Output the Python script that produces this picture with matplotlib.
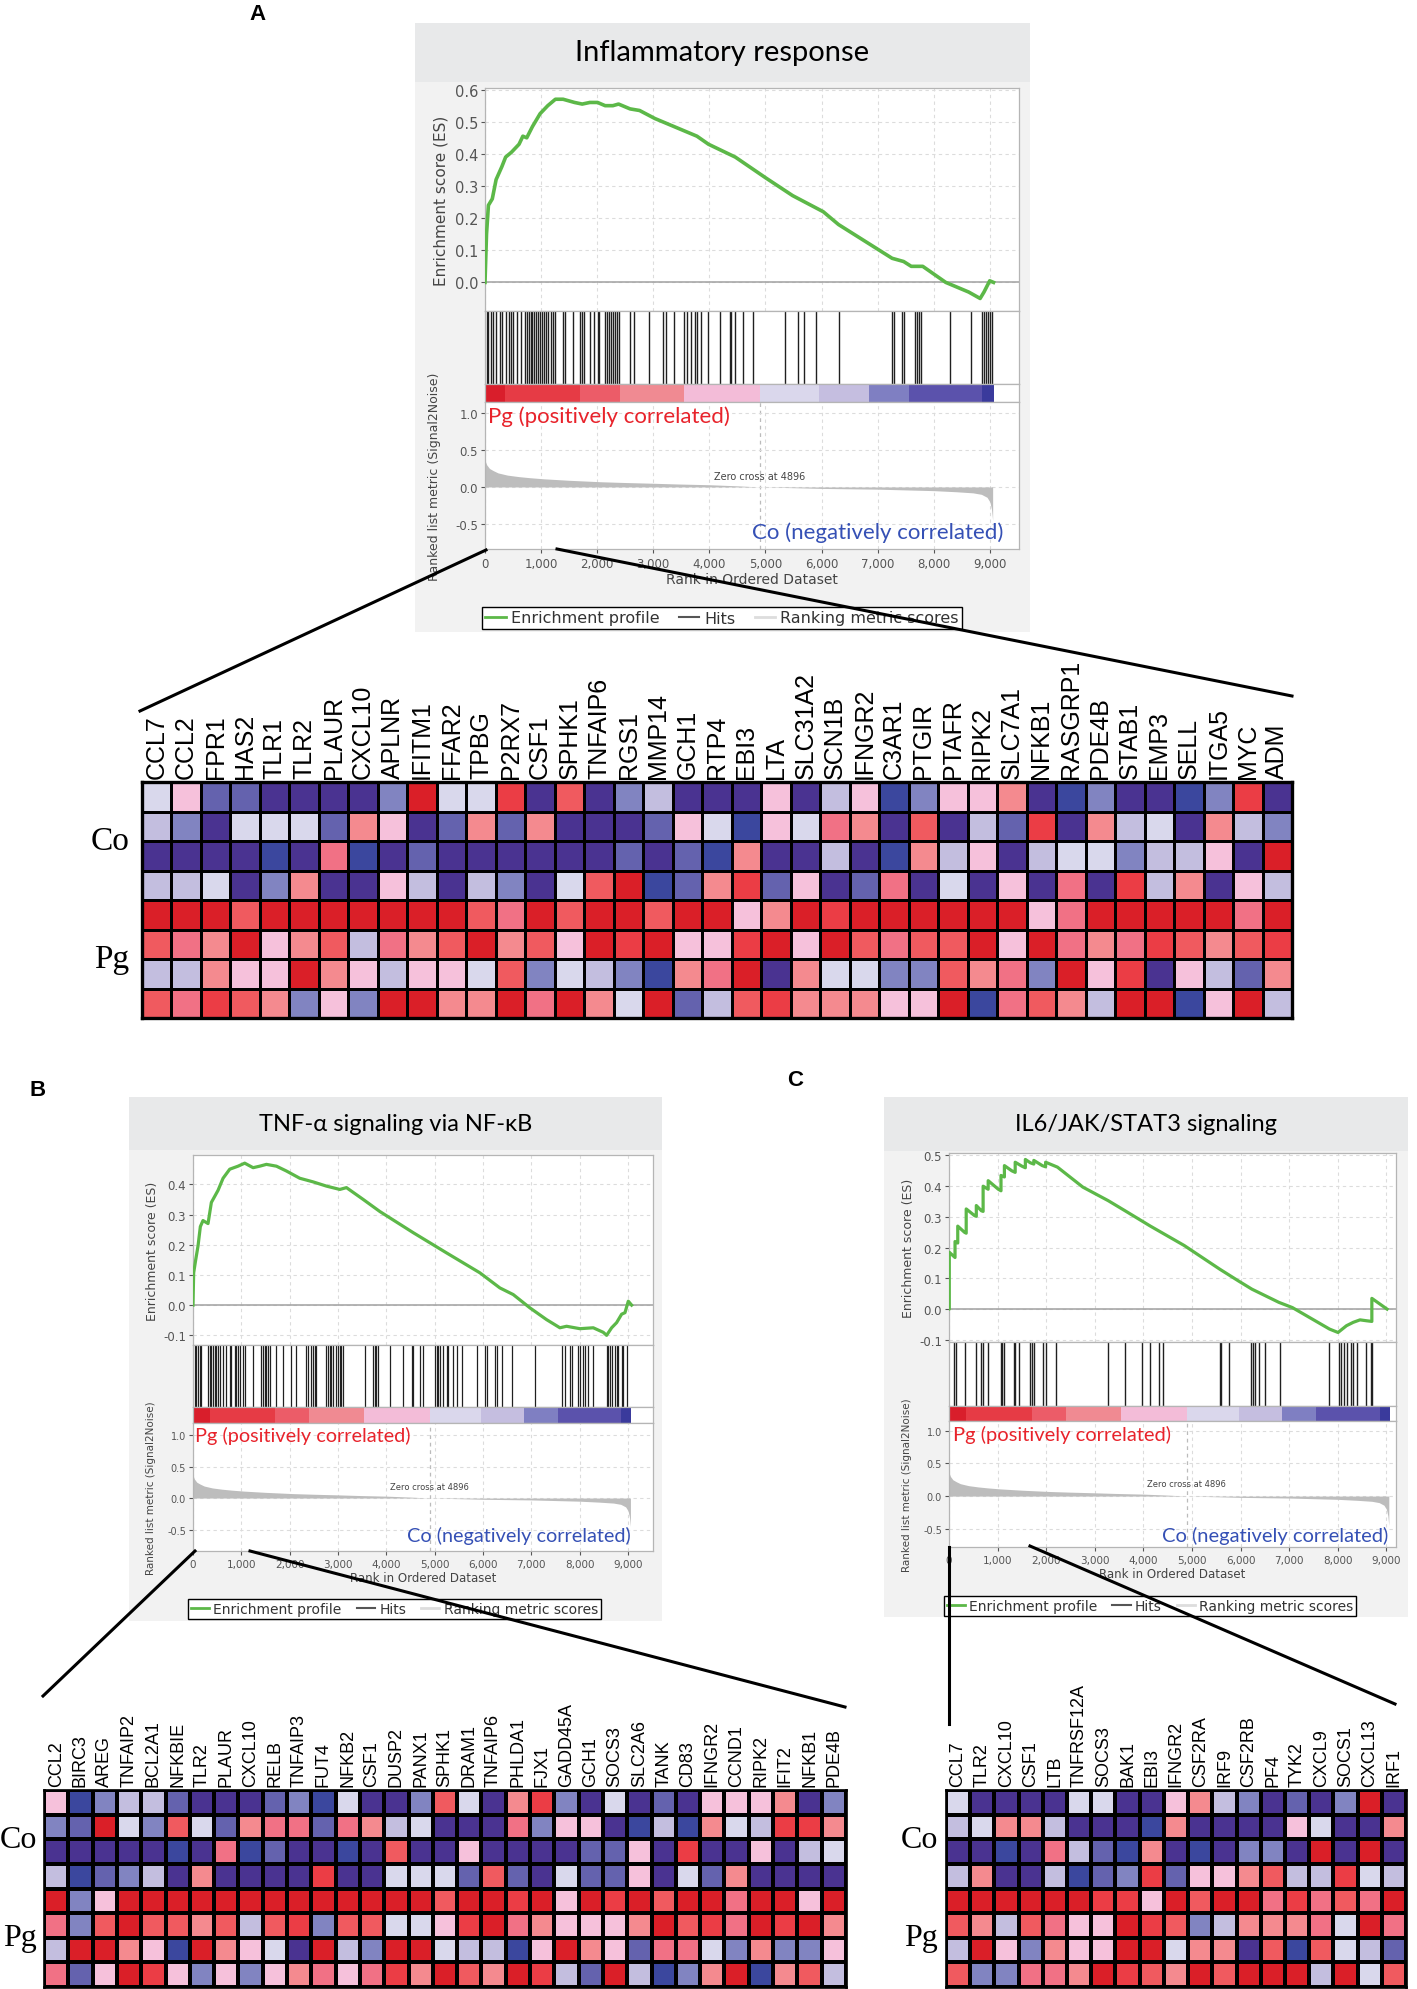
import matplotlib
matplotlib.use('Agg')
import matplotlib.pyplot as plt
import numpy as np
from matplotlib.colors import ListedColormap, BoundaryNorm
from matplotlib.patches import Rectangle
from matplotlib.lines import Line2D

# ---------------- data ----------------
# shared ranked list (Signal2Noise)
metric_rank = [0, 30, 80, 150, 232, 400, 600, 800, 1050, 1500, 2074, 2500, 3000, 3438, 4000, 4500,
               4896, 5500, 6000, 6500, 7000, 7500, 8000, 8400, 8700, 8850, 8950, 9000, 9030, 9050]
metric_val = [0.36, 0.30, 0.25, 0.22, 0.19, 0.16, 0.14, 0.125, 0.11, 0.09, 0.07, 0.06, 0.05, 0.04,
              0.03, 0.015, 0.0, -0.01, -0.02, -0.025, -0.03, -0.04, -0.05, -0.065, -0.08, -0.1,
              -0.14, -0.2, -0.3, -0.45]
cb_start = [0, 350, 1700, 2400, 3540, 4900, 5960, 6850, 7560, 8860]
cb_end = [350, 1700, 2400, 3540, 4900, 5960, 6850, 7560, 8860, 9066]
cb_color = ['#D91E2B', '#E63B45', '#EC5C68', '#F08A92', '#F3BCD8', '#DAD7EC', '#C5BEE0',
            '#7F7FC2', '#5B52AC', '#3A3A9C']
zero_cross = 4896

# Panel A: Inflammatory response
es_a_rank = [0, 27, 61, 130, 198, 300, 368, 471, 607, 675, 744, 846, 982, 1119, 1255, 1392, 1596,
             1733, 1869, 2006, 2142, 2279, 2381, 2586, 2756, 3029, 3438, 3779, 3984, 4462, 5007,
             5485, 6030, 6303, 6849, 7258, 7463, 7599, 7804, 8214, 8623, 8827, 8896, 8998, 9066]
es_a_val = [0, 0.15, 0.24, 0.26, 0.32, 0.36, 0.39, 0.405, 0.43, 0.455, 0.45, 0.485, 0.525, 0.55,
            0.57, 0.57, 0.56, 0.555, 0.56, 0.56, 0.55, 0.55, 0.555, 0.54, 0.535, 0.51, 0.48, 0.455,
            0.43, 0.39, 0.325, 0.27, 0.22, 0.18, 0.12, 0.075, 0.065, 0.05, 0.05, 0.0, -0.03, -0.05,
            -0.03, 0.005, 0.0]
hits_a = [27, 61, 109, 150, 198, 266, 300, 369, 423, 471, 505, 573, 641, 710, 744, 778, 812, 846,
          880, 914, 948, 982, 1017, 1051, 1085, 1119, 1173, 1221, 1255, 1392, 1426, 1562, 1699,
          1733, 1767, 1869, 1938, 2006, 2040, 2142, 2176, 2210, 2245, 2279, 2313, 2347, 2381, 2586,
          2654, 2927, 3166, 3234, 3370, 3541, 3609, 3677, 3745, 3780, 3848, 3984, 4189, 4359, 4393,
          4462, 4598, 4769, 5349, 5587, 5690, 5895, 6304, 7260, 7294, 7430, 7465, 7670, 7704, 7738,
          7772, 8282, 8657, 8862, 8896, 8930, 8964, 8998, 9032]

# Panel B: TNF-alpha signaling via NF-kB
es_b_rank = [0, 14, 56, 104, 152, 207, 311, 380, 449, 518, 622, 760, 932, 1070, 1243, 1381, 1519,
             1726, 1933, 2209, 2485, 2761, 3037, 3175, 3520, 3865, 4555, 5245, 5935, 6349, 6625,
             6970, 7315, 7591, 7729, 8005, 8281, 8488, 8557, 8661, 8764, 8868, 8937, 9006, 9075]
es_b_val = [0.0, 0.107, 0.15, 0.196, 0.26, 0.28, 0.27, 0.34, 0.36, 0.38, 0.42, 0.45, 0.46, 0.47,
            0.455, 0.46, 0.466, 0.46, 0.444, 0.42, 0.408, 0.394, 0.383, 0.389, 0.35, 0.31, 0.24,
            0.173, 0.107, 0.057, 0.035, -0.009, -0.048, -0.075, -0.07, -0.078, -0.075, -0.09, -0.10,
            -0.075, -0.058, -0.03, -0.025, 0.013, 0.0]
hits_b = [36, 70, 105, 139, 174, 312, 346, 381, 415, 450, 484, 519, 553, 622, 691, 760, 795, 864,
          898, 933, 967, 1036, 1071, 1243, 1416, 1450, 1485, 1519, 1554, 1588, 1726, 1864, 2037,
          2140, 2347, 2382, 2451, 2485, 2520, 2554, 2761, 2796, 2830, 2865, 2899, 2968, 3003, 3037,
          3072, 3106, 3555, 3727, 3762, 3796, 3831, 4072, 4348, 4521, 4555, 4693, 4762, 5004, 5038,
          5073, 5107, 5176, 5245, 5280, 5383, 5452, 5556, 5866, 6039, 6073, 6246, 6280, 6384, 6590,
          7073, 7626, 7695, 7798, 7833, 7971, 8005, 8074, 8109, 8178, 8281, 8557, 8592, 8626, 8661,
          8730, 8764, 8799, 8868, 8902, 8971]

# Panel C: IL6/JAK/STAT3 signaling
es_c_rank = [0, 6, 6, 124, 124, 180, 180, 319, 354, 354, 528, 562, 562, 667, 702, 702, 806, 806,
             1015, 1070, 1070, 1140, 1140, 1293, 1362, 1362, 1502, 1571, 1571, 1675, 1745, 1745,
             1919, 1988, 1988, 2232, 2754, 3275, 3623, 4145, 4840, 5571, 5953, 6232, 6788, 7066,
             7831, 8005, 8179, 8318, 8458, 8597, 8701, 8701, 9014]
es_c_val = [0.0, 0.0, 0.185, 0.168, 0.22, 0.215, 0.27, 0.25, 0.247, 0.326, 0.304, 0.302, 0.337,
            0.32, 0.318, 0.40, 0.39, 0.418, 0.39, 0.385, 0.435, 0.43, 0.467, 0.45, 0.445, 0.478,
            0.465, 0.46, 0.487, 0.476, 0.472, 0.484, 0.467, 0.463, 0.478, 0.462, 0.397, 0.353,
            0.32, 0.27, 0.207, 0.13, 0.092, 0.065, 0.022, 0.005, -0.065, -0.076, -0.054, -0.043,
            -0.035, -0.038, -0.04, 0.035, 0.0]
hits_c = [110, 145, 333, 549, 667, 702, 806, 1070, 1098, 1140, 1328, 1362, 1446, 1675, 1710, 1745,
          1940, 1988, 2197, 3275, 3623, 3971, 4145, 4319, 4409, 5571, 5592, 5759, 6218, 6252, 6301,
          6385, 6510, 6802, 7818, 8026, 8075, 8124, 8180, 8263, 8318, 8402, 8576, 8680, 8701]

# Heatmaps (expression level, -6 .. -1 blue, 1 .. 6 red); rows 1-4 Co, rows 5-8 Pg
genes_a = ['CCL7', 'CCL2', 'FPR1', 'HAS2', 'TLR1', 'TLR2', 'PLAUR', 'CXCL10', 'APLNR', 'IFITM1',
           'FFAR2', 'TPBG', 'P2RX7', 'CSF1', 'SPHK1', 'TNFAIP6', 'RGS1', 'MMP14', 'GCH1', 'RTP4',
           'EBI3', 'LTA', 'SLC31A2', 'SCN1B', 'IFNGR2', 'C3AR1', 'PTGIR', 'PTAFR', 'RIPK2',
           'SLC7A1', 'NFKB1', 'RASGRP1', 'PDE4B', 'STAB1', 'EMP3', 'SELL', 'ITGA5', 'MYC', 'ADM']
heat_a = [
    [-1, 1, -4, -4, -6, -6, -6, -6, -3, 6, -1, -1, 5, -6, 4, -6, -3, -2, -6,
     -6, -6, 1, -6, -2, 1, -5, -3, 1, 1, 2, -6, -5, -3, -6, -6, -5, -3, 5, -6],
    [-2, -3, -6, -1, -1, -1, -4, 2, 1, -6, -4, 2, -4, 2, -6, -6, -6, -4, 1,
     -1, -5, 1, -1, 3, 2, -6, 4, -6, -2, -4, 5, -6, 2, -2, -1, -6, 2, -2, -3],
    [-6, -6, -6, -6, -5, -6, 3, -5, -6, -4, -6, -6, -6, -6, -6, -6, -4, -6, -4,
     -5, 2, -6, -6, -2, -6, -5, 2, -2, 1, -6, -2, -1, -1, -3, -2, -2, 1, -6, 6],
    [-2, -2, -1, -6, -3, 2, -6, -6, 1, -2, -6, -2, -3, -6, -1, 4, 6, -5, -4,
     2, 5, -4, 1, -6, -4, 3, -6, -1, -6, 1, -6, 3, -6, 5, -2, 2, -6, 1, -2],
    [6, 6, 6, 4, 6, 6, 6, 6, 6, 6, 6, 4, 3, 6, 4, 6, 6, 4, 6,
     6, 1, 2, 6, 5, 6, 6, 6, 6, 6, 6, 1, 3, 6, 6, 6, 6, 6, 3, 6],
    [4, 3, 2, 6, 1, 2, 4, -2, 3, 2, 4, 6, 2, 4, 1, 6, 5, 6, 1,
     1, 5, 6, 1, 6, 4, 3, 4, 4, 6, 1, 6, 3, 2, 3, 5, 4, 2, 4, 5],
    [-2, -2, 2, 1, 1, 6, 2, 1, -2, 1, 1, -1, 4, -3, -1, -2, -3, -5, 2,
     3, 6, -6, 2, -1, -1, -3, -3, 4, 2, 3, -3, 6, 1, 5, -6, 1, -2, -4, 2],
    [4, 3, 5, 4, 2, -3, 1, -3, 6, 6, 2, 2, 6, 3, 6, 2, -1, 6, -4,
     -2, 4, 5, 2, 2, 2, 1, 1, 6, -5, 3, 4, 2, -2, 6, 6, -5, 1, 6, -2],
]
genes_b = ['CCL2', 'BIRC3', 'AREG', 'TNFAIP2', 'BCL2A1', 'NFKBIE', 'TLR2', 'PLAUR', 'CXCL10',
           'RELB', 'TNFAIP3', 'FUT4', 'NFKB2', 'CSF1', 'DUSP2', 'PANX1', 'SPHK1', 'DRAM1',
           'TNFAIP6', 'PHLDA1', 'FJX1', 'GADD45A', 'GCH1', 'SOCS3', 'SLC2A6', 'TANK', 'CD83',
           'IFNGR2', 'CCND1', 'RIPK2', 'IFIT2', 'NFKB1', 'PDE4B']
heat_b = [
    [1, -5, -3, -2, -2, -4, -6, -6, -6, -4, -3, -5, -1, -6, -6, -3, 4,
     -1, -6, 2, 5, -3, -6, -1, -6, -4, -6, 1, 1, 1, 2, -6, -3],
    [-3, -4, 6, -1, -3, 4, -1, -4, 2, 3, 3, -4, 3, 2, -2, -1, -6,
     -6, -6, 3, -3, 1, 1, -6, -5, -2, -5, 2, -1, -2, 5, 5, 2],
    [-6, -6, -6, -6, -6, -5, -6, 3, -5, -4, -6, -6, -5, -6, 4, -6, -6,
     1, -6, -6, -6, -6, -4, -4, 1, -6, 5, -6, -6, 1, -6, -2, -1],
    [-2, -5, -4, -3, -2, -6, 2, -6, -6, -6, -6, 5, -6, -6, -1, -1, -1,
     -4, 4, -4, -6, -1, -4, -4, 1, -6, -1, -4, 2, -6, -6, -6, -6],
    [6, -3, 1, 6, 6, 6, 6, 6, 6, 6, 6, 6, 6, 6, 6, 6, 4,
     6, 6, 5, 6, 1, 6, 5, 6, 4, 6, 6, 3, 6, 6, 1, 6],
    [3, -3, 4, 6, 4, 4, 2, 4, -2, 4, 5, -3, 4, 4, -1, -1, 1,
     5, 6, 3, 2, 1, 1, 1, 2, 6, 4, 5, 3, 6, 5, 6, 2],
    [-2, 6, 6, 2, 1, -5, 6, 2, 1, -1, -6, 6, -2, -3, 6, 6, -1,
     -2, -2, -5, 1, 6, 2, 1, -4, 3, 3, -1, -3, 2, -3, -3, 1],
    [3, -4, 1, 6, 5, 1, -3, 1, -3, 1, 2, 3, 1, 3, 5, 2, 6,
     4, 2, 6, 5, -2, -4, 6, -2, -5, -3, 2, 6, -5, 2, 4, -2],
]
genes_c = ['CCL7', 'TLR2', 'CXCL10', 'CSF1', 'LTB', 'TNFRSF12A', 'SOCS3', 'BAK1', 'EBI3', 'IFNGR2',
           'CSF2RA', 'IRF9', 'CSF2RB', 'PF4', 'TYK2', 'CXCL9', 'SOCS1', 'CXCL13', 'IRF1']
heat_c = [
    [-1, -6, -6, -6, -6, -1, -1, -6, -6, 1, 2, -2, -3, -6, -4, -6, -3, 6, -6],
    [-2, -1, 2, 2, -2, -6, -6, -6, -5, 2, -6, -6, -6, -6, 1, -1, -6, -6, 2],
    [-6, -6, -5, -6, 3, -2, -4, -5, 2, -6, -5, -6, -3, -3, -6, 6, -6, 6, -6],
    [-2, 2, -6, -6, -2, -5, -4, -3, 5, -4, 1, 1, 2, 4, -2, -2, 5, -1, -2],
    [6, 6, 6, 6, 6, 6, 5, 5, 1, 6, 4, 6, 6, 3, 5, 3, 4, 3, 6],
    [4, 2, -2, 4, 3, 1, 1, 6, 5, 4, -3, -2, 2, 2, 2, 3, -1, 6, 3],
    [-2, 6, 1, -3, 2, 1, 1, 6, 6, -1, 2, 2, -6, 4, -5, 4, -1, -2, -4],
    [4, -3, -3, 3, 3, 2, 6, 5, 4, 2, 6, 4, 6, 6, 6, -2, 6, -1, 4],
]
row_groups = ['Co', 'Pg']

# ---------------- styling ----------------
W, H = 1417, 1990
fig = plt.figure(figsize=(W / 100, H / 100), dpi=100)
fig.patch.set_facecolor('white')

GREEN = '#5CB848'
GRID = '#DCDCDC'
TICKC = '#555555'
RED_T = '#E8232B'
BLUE_T = '#3550B5'

heat_colors = ['#4A3391', '#3B479E', '#6462AE', '#8184C1', '#C3BEDF', '#D9D8EC', '#FFFFFF',
               '#F6C1DB', '#F48A8F', '#F17185', '#F05A5F', '#EB3D45', '#DA1F28']
heat_cmap = ListedColormap(heat_colors)
heat_norm = BoundaryNorm(np.arange(-6.5, 7.0, 1.0), heat_cmap.N)


def rect(x0, y0, x1, y1):
    return [x0 / W, 1 - y1 / H, (x1 - x0) / W, (y1 - y0) / H]


def fig_line(x0, y0, x1, y1, lw=2.2):
    fig.add_artist(Line2D([x0 / W, x1 / W], [1 - y0 / H, 1 - y1 / H], transform=fig.transFigure,
                          color='black', lw=lw, zorder=20))


def style_frame(ax):
    for s in ax.spines.values():
        s.set_color('#B5B5B5')
        s.set_linewidth(0.9)


def gsea(cfg):
    bx0, by0, bx1, by1 = cfg['box']
    fig.add_artist(Rectangle((bx0 / W, 1 - by1 / H), (bx1 - bx0) / W, (by1 - by0) / H,
                             transform=fig.transFigure, facecolor='#F2F2F2', edgecolor='none',
                             zorder=0))
    fig.add_artist(Rectangle((bx0 / W, 1 - cfg['band'] / H), (bx1 - bx0) / W,
                             (cfg['band'] - by0) / H, transform=fig.transFigure,
                             facecolor='#E8E9EA', edgecolor='none', zorder=0))
    fig.text((bx0 + bx1) / 2 / W, 1 - (by0 + cfg['band']) / 2 / H, cfg['title'],
             ha='center', va='center', fontsize=cfg['title_fs'], family='Lato', color='black')

    x0, x1 = cfg['ax_x']
    y_es0, y_es1, y_h1, y_cb1, y_rk1 = cfg['ax_y']
    xmax = cfg['xmax']
    xt = np.arange(0, 9001, 1000)

    # ES
    ax = fig.add_axes(rect(x0, y_es0, x1, y_es1))
    ax.set_facecolor('white')
    ax.set_xlim(0, xmax)
    ax.set_ylim(*cfg['es_ylim'])
    ax.set_xticks(xt)
    ax.set_xticklabels([])
    ax.set_yticks(cfg['es_ticks'])
    ax.set_yticklabels(['%.1f' % t for t in cfg['es_ticks']])
    ax.grid(True, color=GRID, ls=(0, (3, 3)), lw=0.8)
    ax.axhline(0, color='#A0A0A0', lw=1.1, zorder=2)
    ax.plot(cfg['es_r'], cfg['es_v'], color=GREEN, lw=cfg['es_lw'], zorder=3,
            solid_joinstyle='round')
    ax.tick_params(axis='y', labelsize=cfg['es_tick_fs'], colors=TICKC, length=3, pad=2)
    ax.tick_params(axis='x', length=0)
    ax.set_ylabel('Enrichment score (ES)', fontsize=cfg['es_lab_fs'], color='#444444',
                  labelpad=cfg['es_labelpad'])
    style_frame(ax)

    # hits
    axh = fig.add_axes(rect(x0, y_es1, x1, y_h1))
    axh.set_xlim(0, xmax)
    axh.set_ylim(0, 1)
    axh.vlines(cfg['hits'], 0, 1, color='#202020', lw=cfg['hit_lw'])
    axh.set_xticks([])
    axh.set_yticks([])
    style_frame(axh)

    # colour bar of ranked list
    axc = fig.add_axes(rect(x0, y_h1, x1, y_cb1))
    axc.set_xlim(0, xmax)
    axc.set_ylim(0, 1)
    axc.broken_barh([(s, e - s) for s, e in zip(cb_start, cb_end)], (0, 1), facecolors=cb_color,
                    edgecolor='none')
    axc.set_xticks([])
    axc.set_yticks([])
    style_frame(axc)

    # ranked metric
    axr = fig.add_axes(rect(x0, y_cb1, x1, y_rk1))
    axr.set_xlim(0, xmax)
    axr.set_ylim(*cfg['rk_ylim'])
    axr.fill_between(metric_rank, metric_val, 0, color='#BDBDBD', lw=0, zorder=2)
    axr.set_xticks(xt)
    axr.set_xticklabels(['{:,}'.format(v) for v in xt])
    axr.set_yticks([-0.5, 0.0, 0.5, 1.0])
    axr.set_yticklabels(['-0.5', '0.0', '0.5', '1.0'])
    axr.grid(True, color=GRID, ls=(0, (3, 3)), lw=0.8)
    axr.axvline(zero_cross, color='#BBBBBB', ls=(0, (3, 3)), lw=0.9, zorder=1)
    axr.tick_params(axis='y', labelsize=cfg['rk_tick_fs'], colors=TICKC, length=3, pad=2)
    axr.tick_params(axis='x', labelsize=cfg['x_tick_fs'], colors=TICKC, length=3, pad=3)
    axr.set_xlabel('Rank in Ordered Dataset', fontsize=cfg['xlab_fs'], color='#444444',
                   labelpad=1)
    axr.set_ylabel('Ranked list metric (Signal2Noise)', fontsize=cfg['rk_lab_fs'],
                   color='#444444', labelpad=cfg['rk_labelpad'])
    axr.text(zero_cross, cfg['zc_y'], 'Zero cross at %d' % zero_cross, ha='center', va='center',
             fontsize=cfg['zc_fs'], color='#444444')
    axr.text(cfg['pg_x'], cfg['pg_y'], 'Pg (positively correlated)', color=RED_T, ha='left',
             va='center', fontsize=cfg['pg_fs'], family='Lato', zorder=5)
    axr.text(cfg['co_x'], cfg['co_y'], 'Co (negatively correlated)', color=BLUE_T, ha='right',
             va='center', fontsize=cfg['pg_fs'], family='Lato', zorder=5)
    style_frame(axr)

    # legend
    lx0, ly0, lx1, ly1 = cfg['leg']
    handles = [Line2D([], [], color=GREEN, lw=2), Line2D([], [], color='#555555', lw=1.5),
               Line2D([], [], color='#DDDDDD', lw=2)]
    leg = fig.legend(handles, ['Enrichment profile', 'Hits', 'Ranking metric scores'],
                     loc='center', bbox_to_anchor=((lx0 + lx1) / 2 / W, 1 - (ly0 + ly1) / 2 / H),
                     ncol=3, fontsize=cfg['leg_fs'], frameon=True, fancybox=False,
                     edgecolor='black', framealpha=1, facecolor='white',
                     handlelength=1.3, handletextpad=0.3, columnspacing=cfg['leg_cs'],
                     borderpad=0.2, labelcolor='#333333')
    leg.get_frame().set_linewidth(1.0)


def heatmap(vals, genes, box, lab_fs, lw, grp_fs, grp_x):
    x0, y0, x1, y1 = box
    ax = fig.add_axes(rect(x0, y0, x1, y1))
    arr = np.array(vals)
    ax.pcolormesh(arr, cmap=heat_cmap, norm=heat_norm, edgecolors='black', linewidth=lw)
    ax.set_xlim(0, arr.shape[1])
    ax.set_ylim(arr.shape[0], 0)
    ax.xaxis.tick_top()
    ax.set_xticks(np.arange(arr.shape[1]) + 0.5)
    ax.set_xticklabels(genes, rotation=90, fontsize=lab_fs, family='Liberation Sans')
    ax.tick_params(axis='x', length=0, pad=3)
    ax.set_yticks([])
    for s in ax.spines.values():
        s.set_color('black')
        s.set_linewidth(lw * 1.2)
    hrow = (y1 - y0) / 8.0
    for k, g in enumerate(row_groups):
        yc = y0 + hrow * (2 + 4 * k)
        fig.text(grp_x / W, 1 - yc / H, g, ha='right', va='center', fontsize=grp_fs,
                 family='Liberation Serif', color='black')


# ---------------- panel A ----------------
gsea(dict(box=(415, 24, 1030, 633), band=83, title='Inflammatory response', title_fs=21,
          ax_x=(485, 1019), ax_y=(89, 312, 385, 403, 550), xmax=9520,
          es_ylim=(-0.089, 0.605), es_ticks=[0.0, 0.1, 0.2, 0.3, 0.4, 0.5, 0.6],
          es_r=es_a_rank, es_v=es_a_val, hits=hits_a, es_lw=2.6, hit_lw=1.0,
          rk_ylim=(-0.84, 1.15), es_tick_fs=10.5, rk_tick_fs=8.5, x_tick_fs=8.5, xlab_fs=10,
          es_lab_fs=11, rk_lab_fs=9, es_labelpad=4, rk_labelpad=10, zc_y=0.15, zc_fs=7,
          pg_x=60, pg_y=0.97, co_x=9240, co_y=-0.61, pg_fs=16,
          leg=(511, 606, 933, 632), leg_fs=11.5, leg_cs=1.2))
heatmap(heat_a, genes_a, (142, 783, 1292, 1019), 18, 2.0, 24, 129)
fig_line(486, 551, 140, 712)
fig_line(557, 550, 1292, 697)
fig.text(258 / W, 1 - 15 / H, 'A', fontsize=16, fontweight='bold', family='Liberation Sans',
         ha='center', va='center')

# ---------------- panel B ----------------
gsea(dict(box=(129, 1098, 662, 1622), band=1151, title='TNF-α signaling via NF-κB', title_fs=17,
          ax_x=(193, 653), ax_y=(1156, 1346, 1408, 1424, 1552), xmax=9517,
          es_ylim=(-0.132, 0.497), es_ticks=[-0.1, 0.0, 0.1, 0.2, 0.3, 0.4],
          es_r=es_b_rank, es_v=es_b_val, hits=hits_b, es_lw=2.3, hit_lw=0.9,
          rk_ylim=(-0.84, 1.19), es_tick_fs=8.5, rk_tick_fs=7, x_tick_fs=7.5, xlab_fs=8.5,
          es_lab_fs=9, rk_lab_fs=7.5, es_labelpad=3, rk_labelpad=8, zc_y=0.19, zc_fs=6,
          pg_x=40, pg_y=1.0, co_x=9048, co_y=-0.59, pg_fs=14.3,
          leg=(211, 1599, 578, 1621), leg_fs=10, leg_cs=1.1))
heatmap(heat_b, genes_b, (44, 1791, 846, 1988), 13, 1.6, 23, 37)
fig_line(195, 1552, 43, 1697)
fig_line(250, 1552, 845, 1708)
fig.text(38 / W, 1 - 1091 / H, 'B', fontsize=16, fontweight='bold', family='Liberation Sans',
         ha='center', va='center')

# ---------------- panel C ----------------
gsea(dict(box=(884, 1098, 1408, 1618), band=1152, title='IL6/JAK/STAT3 signaling', title_fs=17,
          ax_x=(949, 1396), ax_y=(1154, 1343, 1407, 1422, 1548), xmax=9198,
          es_ylim=(-0.107, 0.508), es_ticks=[-0.1, 0.0, 0.1, 0.2, 0.3, 0.4, 0.5],
          es_r=es_c_rank, es_v=es_c_val, hits=hits_c, es_lw=2.3, hit_lw=1.0,
          rk_ylim=(-0.78, 1.15), es_tick_fs=8.5, rk_tick_fs=7, x_tick_fs=7.5, xlab_fs=8.5,
          es_lab_fs=9, rk_lab_fs=7.5, es_labelpad=3, rk_labelpad=8, zc_y=0.19, zc_fs=6,
          pg_x=80, pg_y=0.95, co_x=9033, co_y=-0.6, pg_fs=14.5,
          leg=(967, 1595, 1333, 1619), leg_fs=10, leg_cs=1.1))
heatmap(heat_c, genes_c, (946, 1791, 1406, 1988), 13, 1.6, 23, 938)
fig_line(949, 1548, 949, 1725)
fig_line(1030, 1547, 1395, 1705)
fig.text(795 / W, 1 - 1081 / H, 'C', fontsize=16, fontweight='bold', family='Liberation Sans',
         ha='center', va='center')

fig.savefig('out.png', dpi=100, facecolor='white')
